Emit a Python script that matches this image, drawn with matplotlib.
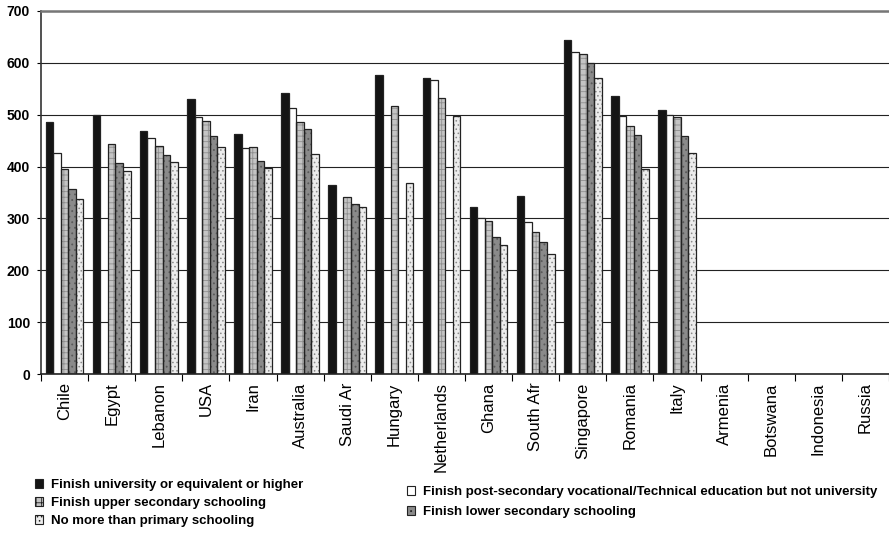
import numpy as np
import matplotlib
matplotlib.use("Agg")
import matplotlib.pyplot as plt
from matplotlib.patches import Patch

plt.rcParams['font.family'] = ['Liberation Sans', 'DejaVu Sans']
plt.rcParams['hatch.linewidth'] = 0.6

countries = ["Chile", "Egypt", "Lebanon", "USA", "Iran", "Australia", "Saudi Ar",
             "Hungary", "Netherlands", "Ghana", "South Afr", "Singapore", "Romania",
             "Italy", "Armenia", "Botswana", "Indonesia", "Russia"]

nan = np.nan
university = [485, 500, 469, 531, 463, 541, 365, 577, 571, 323, 343, 645, 537, 509,
              nan, nan, nan, nan]
post_secondary = [426, nan, 455, 495, 435, 512, nan, nan, 567, 300, 293, 620, 498, 499,
                  nan, nan, nan, nan]
upper_secondary = [395, 444, 440, 488, 437, 486, 342, 517, 532, 296, 274, 617, 479, 495,
                   nan, nan, nan, nan]
lower_secondary = [356, 406, 422, 458, 410, 473, 327, nan, nan, 265, 254, 599, 460, 458,
                   nan, nan, nan, nan]
primary = [338, 391, 409, 438, 397, 424, 322, 369, 497, 249, 231, 571, 395, 427,
           nan, nan, nan, nan]

series = [
    ("Finish university or equivalent or higher", university, "#141414", None, "#141414"),
    ("Finish post-secondary vocational/Technical education but not university",
     post_secondary, "#ffffff", None, "#ffffff"),
    ("Finish upper secondary schooling", upper_secondary, "#c4c4c4", "+++", "#8f8f8f"),
    ("Finish lower secondary schooling", lower_secondary, "#8a8a8a", "...", "#5a5a5a"),
    ("No more than primary schooling", primary, "#ececec", "....", "#8a8a8a"),
]

W, H = 889, 536
fig = plt.figure(figsize=(W / 100, H / 100), dpi=100)
ax = fig.add_axes([41 / W, 1 - 374 / H, 848 / W, 363 / H])

x = np.arange(len(countries))
width = 0.16
offsets = (np.arange(len(series)) - 2) * width

handles = []
for (label, vals, face, hatch, hcol), off in zip(series, offsets):
    vals = np.asarray(vals, dtype=float)
    # hatch layer drawn in its own colour, outline drawn on top
    ax.bar(x + off, vals, width, color=face, hatch=hatch, edgecolor=hcol,
           linewidth=0, zorder=2)
    ax.bar(x + off, vals, width, facecolor="none", edgecolor="#222222",
           linewidth=0.9, zorder=3)
    handles.append(Patch(facecolor=face, hatch=hatch, edgecolor="#222222",
                         linewidth=0.8, label=label))

ax.set_xlim(-0.5, len(countries) - 0.5)
ax.set_ylim(0, 700)
ax.set_yticks(np.arange(0, 701, 100))
ax.yaxis.grid(True, color="#222222", linewidth=0.8, zorder=0)
ax.set_axisbelow(True)

ax.set_xticks(x)
ax.set_xticklabels(countries, rotation=90, fontsize=12)
ax.set_xticks(np.arange(-0.5, len(countries), 1.0), minor=True)
ax.tick_params(axis="x", which="major", length=0, pad=6)
ax.tick_params(axis="x", which="minor", length=5, width=0.8, direction="out")
ax.tick_params(axis="y", length=3, width=0.8, labelsize=10, pad=5)
for t in ax.get_yticklabels():
    t.set_fontweight("bold")

ax.spines["right"].set_visible(False)
ax.spines["top"].set_color("#777777")
ax.spines["top"].set_linewidth(1.8)
ax.spines["top"].set_linestyle((0, (1, 1)))
ax.spines["left"].set_color("#333333")
ax.spines["left"].set_linewidth(1.2)
ax.spines["bottom"].set_color("#222222")
ax.spines["bottom"].set_linewidth(1.2)

# legend entries: (series index, left x px, centre y px)
legend_slots = [(0, 35, 485), (2, 35, 503), (4, 35, 521),
                (1, 407, 492), (3, 407, 512)]
for idx, px, py in legend_slots:
    fig.legend(handles=[handles[idx]], loc="center left",
               bbox_to_anchor=(px / W, 1 - py / H), frameon=False,
               prop={"weight": "bold", "size": 9.5},
               handlelength=0.6, handleheight=0.6, handletextpad=0.6,
               borderaxespad=0, borderpad=0)

fig.savefig("out.png", dpi=100)
